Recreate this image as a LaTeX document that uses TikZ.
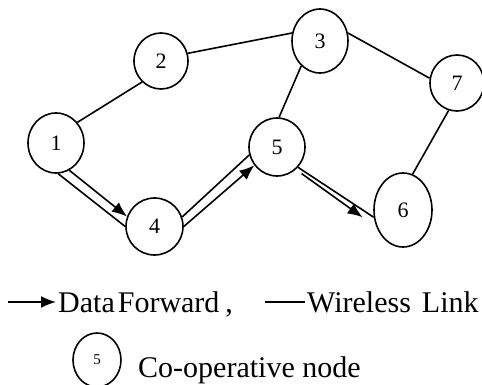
\documentclass[tikz,border=0pt]{standalone}
\usepackage{fontspec}
\setmainfont{Liberation Serif}
\usetikzlibrary{shapes.geometric,arrows.meta}
\begin{document}
\begin{tikzpicture}[x=1pt,y=-1pt,
  link/.style={line width=1.6pt},
  fwd/.style={line width=1.6pt,-{Latex[length=15pt,width=12pt]}},
  peer/.style={draw,ellipse,line width=1.6pt,inner sep=0pt,
    font=\fontsize{22}{22}\selectfont},
  legendtext/.style={anchor=base west,inner sep=0pt,
    font=\fontsize{30}{30}\selectfont}]
\useasboundingbox (0,0) rectangle (482,385);

% network nodes
\node[peer,minimum width=56pt,minimum height=60pt] (n1) at (56,143) {1};
\node[peer,minimum width=54pt,minimum height=56pt] (n2) at (161,61) {2};
\node[peer,minimum width=56pt,minimum height=64pt] (n3) at (320,41) {3};
\node[peer,minimum width=57pt,minimum height=57pt] (n4) at (154.5,226.5) {4};
\node[peer,minimum width=56pt,minimum height=58pt] (n5) at (277,147) {5};
\node[peer,minimum width=58pt,minimum height=74pt] (n6) at (403,210) {6};
\node[peer,minimum width=54pt,minimum height=56pt] (n7) at (457,83) {7};

% wireless links
\draw[link] (n1.44) -- (n2.228);
\draw[link] (n2.16) -- (n3.164);
\draw[link] (n3.16) -- (n7.170);
\draw[link] (n3.233) -- (n5.86);
\draw[link] (n7.253) -- (n6.75);

% forwarding path 1 -> 4 -> 5 -> 6
\draw[link] (n1.-86) -- (n4.180);
\draw[fwd]  (n1.-64) -- (n4.160);
\draw[link] (n4.19) -- (n5.196);
\draw[fwd]  (n4.0) -- (n5.219);
\draw[link] (n5.-44) -- (n6.194);
\draw[fwd,shorten <=7pt,shorten >=17pt] (n5.-50) -- (n6.213);

% legend
\node[legendtext] (fwdtext) at (58,312) {{\spaceskip=3pt Data Forward}\hspace{6pt},};
\coordinate (fA) at (8,302);
\draw[fwd] (fA) -- ([xshift=-2pt]fA -| fwdtext.west);

\node[legendtext] (linktext) at (307,312) {{\spaceskip=11pt Wireless Link}};
\coordinate (wA) at (265,302);
\draw[link] (wA) -- ([xshift=-2pt]wA -| linktext.west);

\node[peer,minimum width=48pt,minimum height=54pt,
  font=\fontsize{15}{15}\selectfont] (legpeer) at (97,360) {5};
\node[legendtext] (coptext) at (138,377) {Co-operative node};
\end{tikzpicture}
\end{document}
